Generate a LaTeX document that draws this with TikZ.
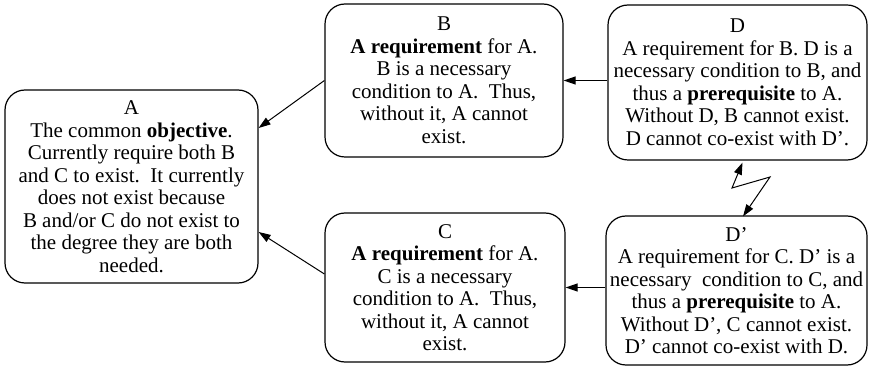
\documentclass[tikz,border=0pt]{standalone}
\usepackage{fontspec}
\setmainfont{Liberation Serif}
\usetikzlibrary{arrows.meta}
\begin{document}
\begin{tikzpicture}[x=1pt,y=1pt,
  box/.style={draw, line width=1.2pt, rounded corners=20pt, inner sep=0pt,
    align=center, font=\fontsize{21}{22.5}\selectfont},
  arr/.style={line width=1pt, -{Triangle[length=12pt,width=8pt]}},
  zig/.style={line width=1pt, {Triangle[length=12pt,width=8pt]}-{Triangle[length=12pt,width=8pt]}}]
\useasboundingbox (0,0) rectangle (873,367);

\node[box, minimum width=253pt, minimum height=193pt] (A) at (131.5,180.5)
  {A\\The common \textbf{objective}.\\Currently require both B\\and C to exist.\ \ It currently\\does not exist because\\B and/or C do not exist to\\the degree they are both\\needed.};

\node[box, minimum width=238pt, minimum height=153pt] (B) at (444,286.5)
  {B\\\textbf{A requirement} for A.\\B is a necessary\\condition to A.\ \ Thus,\\without it, A cannot\\exist.};

\node[box, minimum width=240pt, minimum height=149pt] (C) at (445,79.5)
  {C\\\textbf{A requirement} for A.\\C is a necessary\\condition to A.\ \ Thus,\\without it, A cannot\\exist.};

\node[box, minimum width=259pt, minimum height=155pt] (D) at (737.5,284.5)
  {D\\A requirement for B. D is a\\necessary condition to B, and\\thus a \textbf{prerequisite} to A.\\Without D, B cannot exist.\\D cannot co-exist with D’.};

\node[box, minimum width=261pt, minimum height=149pt] (Dp) at (736.5,76.5)
  {D’\\A requirement for C. D’ is a\\necessary\ \ condition to C, and\\thus a \textbf{prerequisite} to A.\\Without D’, C cannot exist.\\D’ cannot co-exist with D.};

% requirements feed the objective
\draw[arr] (B.west) -- ([yshift=58.5pt]A.east);
\draw[arr] ([yshift=13.5pt]C.west) -- ([yshift=-45.5pt]A.east);

% prerequisites feed the requirements
\draw[arr] ([yshift=2pt]D.west) -- ([yshift=2pt]D.west -| B.east);
\draw[arr] ([yshift=3pt]Dp.west) -- ([yshift=3pt]Dp.west -| C.east);

% conflict between D and D'
\coordinate (k1) at (732,179);
\coordinate (k2) at (770,190);
\draw[zig] ([xshift=5pt,yshift=-2pt]D.south) -- (k1) -- (k2) -- ([xshift=6.5pt,yshift=-1pt]Dp.north);
\end{tikzpicture}
\end{document}
